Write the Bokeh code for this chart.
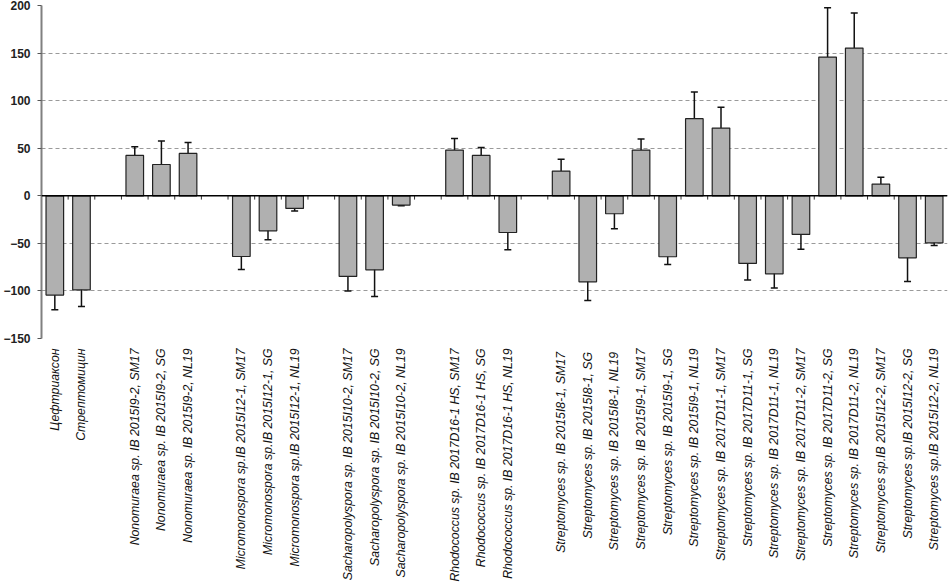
import numpy as np
from bokeh.plotting import figure
from bokeh.models import ColumnDataSource, Whisker, Span, FixedTicker, Range1d, TeeHead
from bokeh.embed import file_html
from bokeh.resources import INLINE

labels = [
    "Цефтриаксон",
    "Стрептомицин",
    "",
    "Nonomuraea sp. IB 2015I9-2, SM17",
    "Nonomuraea sp. IB 2015I9-2, SG",
    "Nonomuraea sp. IB 2015I9-2, NL19",
    "",
    "Micromonospora sp.IB 2015I12-1, SM17",
    "Micromonospora sp.IB 2015I12-1, SG",
    "Micromonospora sp.IB 2015I12-1, NL19",
    "",
    "Sacharopolyspora sp. IB 2015I10-2, SM17",
    "Sacharopolyspora sp. IB 2015I10-2, SG",
    "Sacharopolyspora sp. IB 2015I10-2, NL19",
    "",
    "Rhodococcus sp. IB 2017D16-1 HS, SM17",
    "Rhodococcus sp. IB 2017D16-1 HS, SG",
    "Rhodococcus sp. IB 2017D16-1 HS, NL19",
    "",
    "Streptomyces sp.  IB 2015I8-1, SM17",
    "Streptomyces sp.  IB 2015I8-1, SG",
    "Streptomyces sp.  IB 2015I8-1, NL19",
    "Streptomyces sp. IB 2015I9-1, SM17",
    "Streptomyces sp. IB 2015I9-1, SG",
    "Streptomyces sp. IB 2015I9-1, NL19",
    "Streptomyces sp. IB 2017D11-1, SM17",
    "Streptomyces sp. IB 2017D11-1, SG",
    "Streptomyces sp. IB 2017D11-1, NL19",
    "Streptomyces sp. IB 2017D11-2, SM17",
    "Streptomyces sp. IB 2017D11-2, SG",
    "Streptomyces sp. IB 2017D11-2, NL19",
    "Streptomyces sp.IB 2015I12-2, SM17",
    "Streptomyces sp.IB 2015I12-2, SG",
    "Streptomyces sp.IB 2015I12-2, NL19",
]

values = [
    -104.4, -98.8, None,
    42.4, 32.9, 44.5, None,
    -63.8, -36.8, -13.3, None,
    -84.8, -77.8, -9.8, None,
    48.0, 42.4, -38.6, None,
    26.0, -90.4, -18.9,
    48.0, -64.1, 81.0,
    71.2, -71.1, -82.0,
    -40.6, 145.8, 155.3,
    12.3, -65.2, -49.4,
]

errors = [
    15.4, 17.5, None,
    9.1, 24.7, 11.5, None,
    13.6, 9.3, 2.8, None,
    15.4, 28.0, 0.8, None,
    12.1, 8.4, 18.2, None,
    12.3, 19.6, 15.8,
    11.6, 8.1, 28.2,
    21.9, 17.3, 15.0,
    15.7, 51.8, 36.8,
    7.2, 24.9, 2.8,
]

y_ticks = [-150, -100, -50, 0, 50, 100, 150, 200]

pos = [i for i, v in enumerate(values) if v is not None]
vals = [values[i] for i in pos]
errs = [errors[i] for i in pos]
src = ColumnDataSource(dict(
    x=pos, top=vals,
    upper=[v + e for v, e in zip(vals, errs)],
    lower=[v - e for v, e in zip(vals, errs)],
))

n = len(labels)
p = figure(width=948, height=587, output_backend="svg", toolbar_location=None,
           x_range=Range1d(-0.5, n - 0.5), y_range=Range1d(y_ticks[0], y_ticks[-1]),
           min_border_left=39, min_border_right=1, min_border_top=5, min_border_bottom=249)
p.outline_line_color = None
p.background_fill_color = "white"

p.vbar(x="x", top="top", bottom=0, width=0.66, source=src,
       fill_color="#b0b0b0", line_color="#222222", line_width=1.2)

w = Whisker(base="x", upper="upper", lower="lower", source=src,
            line_color="#111111", line_width=1.5,
            upper_head=TeeHead(size=7, line_color="#111111", line_width=1.5),
            lower_head=TeeHead(size=7, line_color="#111111", line_width=1.5))
p.add_layout(w)

# zero line and category boundary ticks
p.add_layout(Span(location=0, dimension="width", line_color="#000000", line_width=1.5))
bounds = np.arange(0.5, n - 0.5, 1.0)
p.segment(x0=bounds, x1=bounds, y0=np.zeros(len(bounds)), y1=np.full(len(bounds), -4.0),
          line_color="#333333", line_width=1)

# grid
p.xgrid.grid_line_color = None
p.ygrid.ticker = FixedTicker(ticks=y_ticks)
p.ygrid.grid_line_color = "#9a9a9a"
p.ygrid.grid_line_dash = "4 3"
p.ygrid.grid_line_width = 1

# y axis
p.yaxis.ticker = FixedTicker(ticks=y_ticks)
p.yaxis.axis_line_color = "#808080"
p.yaxis.axis_line_width = 2
p.yaxis.major_tick_line_color = "#555555"
p.yaxis.major_tick_out = 4
p.yaxis.major_tick_in = 0
p.yaxis.minor_tick_line_color = None
p.yaxis.major_label_text_font = "Liberation Sans"
p.yaxis.major_label_text_font_style = "bold"
p.yaxis.major_label_text_font_size = "12px"
p.yaxis.major_label_text_color = "#222222"
p.yaxis.major_label_standoff = 7

# x axis
p.xaxis.ticker = FixedTicker(ticks=pos)
p.xaxis.major_label_overrides = {i: labels[i] for i in pos}
p.xaxis.major_label_orientation = np.pi / 2
p.xaxis.axis_line_color = None
p.xaxis.major_tick_line_color = None
p.xaxis.minor_tick_line_color = None
p.xaxis.major_label_text_font = "Liberation Sans"
p.xaxis.major_label_text_font_style = "italic"
p.xaxis.major_label_text_font_size = "12.3px"
p.xaxis.major_label_text_color = "#111111"
p.xaxis.major_label_standoff = 4

open("out.html", "w").write(file_html(p, INLINE))
